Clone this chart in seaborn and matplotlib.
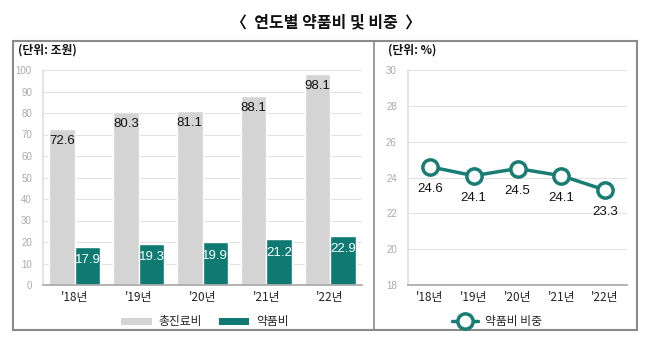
import matplotlib
matplotlib.use("Agg")
import matplotlib.pyplot as plt
import seaborn as sns
import pandas as pd
from matplotlib.patches import Rectangle, Patch
from matplotlib.lines import Line2D

years = ["'18년", "'19년", "'20년", "'21년", "'22년"]
total_cost = [72.6, 80.3, 81.1, 88.1, 98.1]
drug_cost = [17.9, 19.3, 19.9, 21.2, 22.9]
drug_share = [24.6, 24.1, 24.5, 24.1, 23.3]
series_names = ["총진료비", "약품비"]
share_name = "약품비 비중"

GRAY = "#d4d4d4"
TEAL = "#0e7a72"
LINE_TEAL = "#1a7d75"
NUMFONT = ["Liberation Sans", "Noto Sans CJK KR"]

sns.set_theme(style="white")
plt.rcParams["font.family"] = ["Noto Sans CJK KR", "DejaVu Sans"]

fig = plt.figure(figsize=(6.52, 3.46), dpi=100)

df = pd.DataFrame({
    "year": years * 2,
    "value": total_cost + drug_cost,
    "series": [series_names[0]] * 5 + [series_names[1]] * 5,
})

ax1 = fig.add_axes([43/652, 1-285/346, 319/652, 215/346])
sns.barplot(data=df, x="year", y="value", hue="series", palette=[GRAY, TEAL],
            saturation=1, width=0.8, ax=ax1, legend=False)
ax1.set_ylim(0, 100)
ax1.set_xlim(-0.5, 4.5)
ax1.set_yticks(range(0, 101, 10))
ax1.grid(axis="y", color="#e3e3e3", linewidth=0.8)
ax1.set_axisbelow(True)
ax1.set_xlabel("")
ax1.set_ylabel("")
for s in ["top", "right"]:
    ax1.spines[s].set_visible(False)
ax1.spines["left"].set_color("#e0e0e0")
ax1.spines["bottom"].set_color("#aaaaaa")
ax1.tick_params(axis="y", labelsize=7, labelcolor="#aaaaaa", length=0, pad=8)
ax1.tick_params(axis="x", labelsize=8.5, labelcolor="#222222", length=0, pad=4)
for t in ax1.get_yticklabels():
    t.set_family(NUMFONT)
c0, c1 = ax1.containers[0], ax1.containers[1]
ax1.bar_label(c0, labels=[f"{v:.1f}" for v in total_cost], padding=-13,
              fontsize=9.5, color="#111111", family=NUMFONT)
ax1.bar_label(c1, labels=[f"{v:.1f}" for v in drug_cost], padding=-14,
              fontsize=9.5, color="white", family=NUMFONT)

ax2 = fig.add_axes([408/652, 1-285/346, 219/652, 215/346])
sns.lineplot(x=list(range(5)), y=drug_share, ax=ax2, color=LINE_TEAL, linewidth=2.5,
             marker="o", markersize=11, markerfacecolor="white",
             markeredgecolor=LINE_TEAL, markeredgewidth=2.5)
ax2.set_ylim(18, 30)
ax2.set_xlim(-0.5, 4.5)
ax2.set_yticks(range(18, 31, 2))
ax2.set_xticks(range(5))
ax2.set_xticklabels(years)
ax2.grid(axis="y", color="#e3e3e3", linewidth=0.8)
ax2.set_axisbelow(True)
for s in ["top", "right"]:
    ax2.spines[s].set_visible(False)
ax2.spines["left"].set_color("#e0e0e0")
ax2.spines["bottom"].set_color("#aaaaaa")
ax2.tick_params(axis="y", labelsize=7, labelcolor="#aaaaaa", length=0, pad=8)
ax2.tick_params(axis="x", labelsize=8.5, labelcolor="#222222", length=0, pad=4)
for t in ax2.get_yticklabels():
    t.set_family(NUMFONT)
for i, v in enumerate(drug_share):
    ax2.annotate(f"{v:.1f}", (i, v), xytext=(0, -16), textcoords="offset points",
                 ha="center", va="center", fontsize=9.5, color="#111111", family=NUMFONT)

# Legends
h1 = [Patch(facecolor=GRAY, edgecolor="none"), Patch(facecolor=TEAL, edgecolor="none")]
fig.legend(h1, series_names, loc="center", bbox_to_anchor=(205/652, 1-322/346),
           ncol=2, frameon=False, fontsize=8.5, handlelength=2.6, handleheight=0.6,
           columnspacing=1.4, handletextpad=0.6)
h2 = [Line2D([0], [0], color=LINE_TEAL, linewidth=2.5, marker="o", markersize=11,
             markerfacecolor="white", markeredgecolor=LINE_TEAL, markeredgewidth=2.5)]
fig.legend(h2, [share_name], loc="center", bbox_to_anchor=(497/652, 1-322/346),
           frameon=False, fontsize=8.5, handlelength=2.2, handletextpad=0.6)

# Title and unit labels
fig.text(326/652, 1-22/346, "〈  연도별 약품비 및 비중  〉", ha="center", va="center",
         fontsize=11.5, fontweight="bold", color="#111111")
fig.text(18/652, 1-50/346, "(단위: 조원)", ha="left", va="center", fontsize=8.5,
         fontweight="bold", color="#111111")
fig.text(388/652, 1-50/346, "(단위: %)", ha="left", va="center", fontsize=8.5,
         fontweight="bold", color="#111111")

# Frame
fig.add_artist(Rectangle((13/652, 1-330/346), 624/652, 289/346, transform=fig.transFigure,
                         fill=False, edgecolor="#8a8a8a", linewidth=1.5))
fig.add_artist(Line2D([374/652, 374/652], [1-330/346, 1-41/346], transform=fig.transFigure,
                      color="#8a8a8a", linewidth=1.2))

fig.savefig("out.png", dpi=100)
